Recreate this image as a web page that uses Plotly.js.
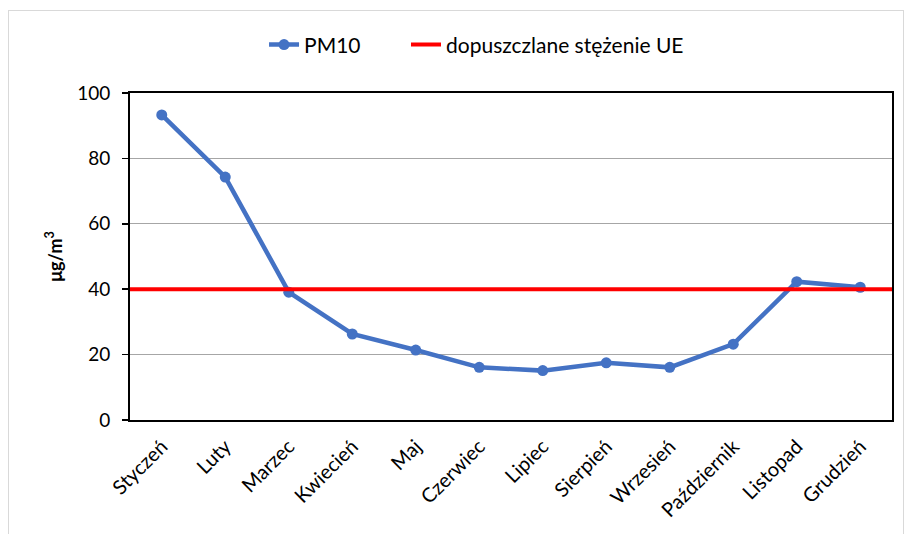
<!DOCTYPE html>
<html>
<head>
<meta charset="utf-8">
<script src="https://cdn.plot.ly/plotly-3.0.1.min.js"></script>
<style>
body{margin:0;padding:0;background:#fff;}
#frame{position:absolute;left:8px;top:10px;width:896px;height:530px;border:1px solid #d9d9d9;box-sizing:border-box;pointer-events:none;z-index:5;}
#chart{position:absolute;left:0;top:0;width:907px;height:534px;}
</style>
</head>
<body>
<div id="chart"></div>
<div id="frame"></div>
<script>
const months = ["Styczeń","Luty","Marzec","Kwiecień","Maj","Czerwiec","Lipiec","Sierpień","Wrzesień","Październik","Listopad","Grudzień"];
const pm10 = [93.3, 74.3, 39.1, 26.3, 21.4, 16.1, 15.1, 17.5, 16.1, 23.2, 42.3, 40.6];
const euLimit = 40;
const yTicks = [0, 20, 40, 60, 80, 100];

const idx = months.map((m, i) => i);
const font = "Lato, 'Open Sans', sans-serif";

const traces = [
  {
    x: idx, y: pm10, name: "PM10", type: "scatter", mode: "lines+markers",
    line: {color: "#4472C4", width: 4.5},
    marker: {color: "#4472C4", size: 11},
    legend: "legend"
  },
  {
    x: [-0.5, months.length - 0.5], y: [euLimit, euLimit],
    name: "dopuszczlane stężenie UE", type: "scatter", mode: "lines",
    line: {color: "#FF0000", width: 4},
    legend: "legend2"
  }
];

const legFont = {family: font, size: 21, color: "#000"};
const layout = {
  width: 907, height: 534,
  margin: {l: 130, r: 15, t: 93, b: 114},
  paper_bgcolor: "#fff", plot_bgcolor: "#fff",
  font: {family: font, size: 18, color: "#000"},
  showlegend: true,
  legend: {orientation: "h", x: 0.1759, xanchor: "left", y: 1.147, yanchor: "middle", font: legFont},
  legend2: {orientation: "h", x: 0.3622, xanchor: "left", y: 1.147, yanchor: "middle", font: legFont},
  xaxis: {
    range: [-0.5, months.length - 0.5], tickmode: "array", tickvals: idx, ticktext: months,
    tickangle: -45, showgrid: false, zeroline: false,
    showline: true, linecolor: "#000", linewidth: 2, mirror: true, ticks: "",
    ticklabelstandoff: 5,
    tickfont: {family: font, size: 20, color: "#000"}, fixedrange: true
  },
  yaxis: {
    range: [0, 100], tickmode: "array", tickvals: yTicks,
    showgrid: true, gridcolor: "#a6a6a6", gridwidth: 1.2, zeroline: false,
    showline: true, linecolor: "#000", linewidth: 2, mirror: true,
    ticks: "outside", ticklen: 6, tickcolor: "#000", tickwidth: 1.5,
    ticklabelstandoff: 8,
    tickfont: {family: font, size: 19, color: "#000"},
    title: {text: "<b>μg/m<sup>3</sup></b>", font: {family: font, size: 18, color: "#000"}, standoff: 10},
    fixedrange: true
  }
};

Plotly.newPlot("chart", traces, layout, {displayModeBar: false, staticPlot: true});
</script>
</body>
</html>
